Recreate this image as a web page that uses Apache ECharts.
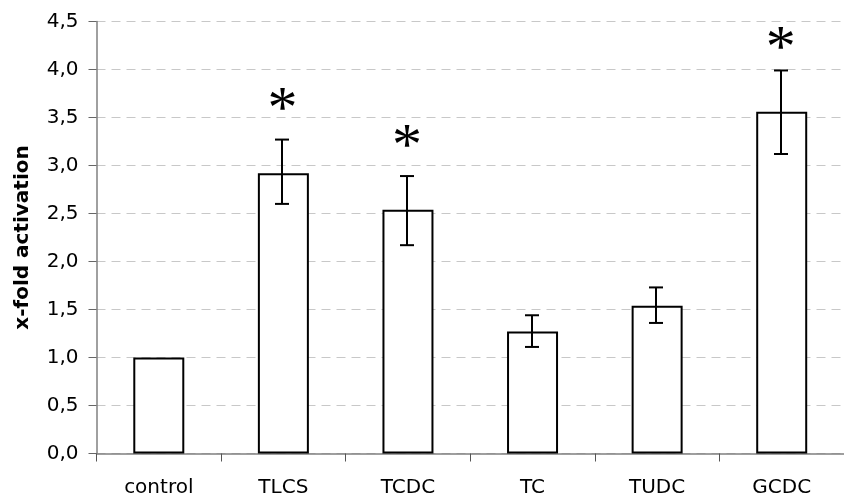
<!DOCTYPE html>
<html><head><meta charset="utf-8">
<script src="https://cdn.jsdelivr.net/npm/echarts@6/dist/echarts.min.js"></script>
<style>html,body{margin:0;padding:0;background:#fff}#c{width:844px;height:501px}</style>
</head><body><div id="c"></div>
<script>
// ---- data ----
const categories = ['control', 'TLCS', 'TCDC', 'TC', 'TUDC', 'GCDC'];
const means      = [1.00, 2.92, 2.54, 1.27, 1.54, 3.56];
const errLow     = [null, 2.60, 2.17, 1.11, 1.36, 3.12];
const errHigh    = [null, 3.27, 2.89, 1.44, 1.73, 3.99];
const significance = ['', '*', '*', '', '', '*'];
const yAxisTitle = 'x-fold activation';
const yMin = 0, yMax = 4.5, yStep = 0.5;

// ---- chart ----
const chart = echarts.init(document.getElementById('c'), null, {renderer: 'canvas'});
const FONT = '"DejaVu Sans", sans-serif';

const errData = [];
categories.forEach((c, i) => { if (errLow[i] != null) errData.push([i, errLow[i], errHigh[i]]); });
const starData = [];
categories.forEach((c, i) => { if (significance[i]) starData.push([i, errHigh[i] != null ? errHigh[i] : means[i], significance[i]]); });

chart.setOption({
  animation: false,
  backgroundColor: '#fff',
  grid: {left: 96.5, right: -8, top: 21.5, bottom: 47.5, containLabel: false},
  xAxis: {
    type: 'category',
    data: categories,
    axisLine: {lineStyle: {color: '#808080', width: 1.5}},
    axisTick: {show: true, length: 8, lineStyle: {color: '#555', width: 1}},
    axisLabel: {color: '#000', fontFamily: FONT, fontSize: 20, margin: 24},
    splitLine: {show: false}
  },
  yAxis: {
    type: 'value',
    min: yMin, max: yMax, interval: yStep,
    name: yAxisTitle,
    nameLocation: 'middle',
    nameRotate: 90,
    nameGap: 64,
    nameTextStyle: {color: '#000', fontFamily: FONT, fontSize: 20, fontWeight: 'bold'},
    axisLine: {show: true, lineStyle: {color: '#808080', width: 1.5}},
    axisTick: {show: true, length: 8, lineStyle: {color: '#666', width: 1}},
    axisLabel: {color: '#000', fontFamily: FONT, fontSize: 20, margin: 18,
      formatter: v => v.toFixed(1).replace('.', ',')},
    splitLine: {show: true, lineStyle: {color: '#c8c8c8', width: 1, type: [9, 6]}}
  },
  series: [
    {
      type: 'bar',
      data: means,
      barWidth: 51,
      itemStyle: {color: '#fff', borderColor: '#000', borderWidth: 2}
    },
    {
      type: 'custom',
      data: errData,
      z: 5,
      renderItem(params, api) {
        const x = api.value(0);
        const lo = api.coord([x, api.value(1)]);
        const hi = api.coord([x, api.value(2)]);
        const cx = Math.round(lo[0]) - 1;
        const st = {stroke: '#000', lineWidth: 2};
        return {type: 'group', children: [
          {type: 'line', shape: {x1: cx, y1: hi[1], x2: cx, y2: lo[1]}, style: st},
          {type: 'line', shape: {x1: cx - 7, y1: hi[1], x2: cx + 7, y2: hi[1]}, style: st},
          {type: 'line', shape: {x1: cx - 7, y1: lo[1], x2: cx + 7, y2: lo[1]}, style: st}
        ]};
      }
    },
    {
      type: 'custom',
      data: starData,
      z: 6,
      renderItem(params, api) {
        const x = api.value(0);
        const p = api.coord([x, api.value(1)]);
        const topPx = api.coord([x, yMax])[1];
        const y = Math.max(p[1] - 38, topPx + 18.5);
        return {type: 'text', x: p[0] - 1, y: y + 10,
          style: {text: starData[params.dataIndex][2], font: '60px "Liberation Serif", serif',
            fill: '#000', align: 'center', verticalAlign: 'middle'}};
      }
    }
  ]
});
</script></body></html>
